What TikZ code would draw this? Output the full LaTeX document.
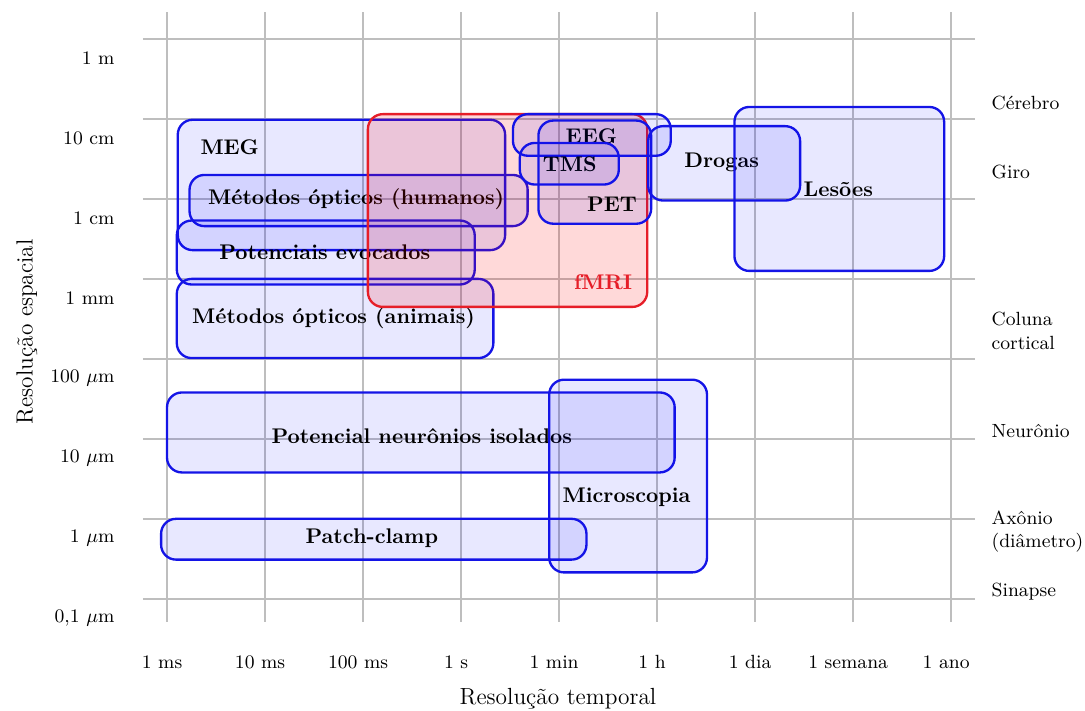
\documentclass[tikz,border=0pt]{standalone}
\usepackage{tikz}
\definecolor{bordaazul}{RGB}{20,20,230}
\definecolor{bordavermelha}{RGB}{230,30,40}
\definecolor{gradecinza}{RGB}{190,190,190}
\tikzset{
  grade/.style={gradecinza,line width=0.8pt},
  caixaazul/.style={draw=bordaazul,fill=blue,fill opacity=0.09,line width=1.1pt,rounded corners=7pt},
  caixavermelha/.style={draw=bordavermelha,fill=red,fill opacity=0.15,line width=1.1pt,rounded corners=7pt},
  rotulo/.style={font=\fontsize{10}{12}\selectfont\bfseries,inner sep=1pt},
  marca/.style={font=\fontsize{9}{11}\selectfont,inner sep=1pt},
  titulo/.style={font=\fontsize{11}{13}\selectfont,inner sep=1pt}
}
\newcommand{\tecnica}[8]{%
  \draw[#2] (#3,#4) rectangle (#5,#6);%
  \node[rotulo] (#1) at (#7) {#8};%
}

\begin{document}
\begin{tikzpicture}[x=46.2pt,y=37.7pt]
  \useasboundingbox (-1.704,-1.4) rectangle (9.367,7.4875);
  % grade
  \foreach \i in {0,...,8} \draw[grade] (\i,-0.29) -- (\i,7.34);
  \foreach \j in {0,...,7} \draw[grade] (-0.245,\j) -- (8.245,\j);
  % eixos
  \foreach \t [count=\i from 0] in {1 ms,10 ms,100 ms,1 s,1 min,1 h,1 dia,1 semana,1 ano}
    \node[marca] (t\i) at (\i-0.05,-0.79) {\t};
  \foreach \e [count=\j from 0] in {{0,1 $\mu$m},1 $\mu$m,10 $\mu$m,100 $\mu$m,1 mm,1 cm,10 cm,1 m}
    \node[marca,anchor=east] (e\j) at (-0.51,\j-0.24) {\e};
  \foreach \v/\nome/\txt in {6.2/cerebro/Cérebro,5.34/giro/Giro,3.35/coluna/{Coluna\\cortical},2.1/neuronio/Neurônio,0.84/axonio/{Axônio\\(diâmetro)},0.09/sinapse/Sinapse}
    \node[marca,anchor=west,align=left,inner sep=0pt] (\nome) at (8.41,\v) {\txt};
  \node[titulo] (eixot) at (3.99,-1.25) {Resolução temporal};
  \node[titulo,rotate=90] (eixoe) at (-1.43,3.34) {Resolução espacial};
  % tecnicas
  \tecnica{meg}{caixaazul}{0.11}{4.36}{3.45}{5.99}{0.64,5.65}{MEG}
  \tecnica{opthum}{caixaazul}{0.23}{4.66}{3.68}{5.30}{1.93,5.0}{Métodos ópticos (humanos)}
  \tecnica{potevoc}{caixaazul}{0.10}{3.93}{3.14}{4.73}{1.61,4.33}{Potenciais evocados}
  \tecnica{optanim}{caixaazul}{0.10}{3.01}{3.33}{4.0}{1.70,3.51}{Métodos ópticos (animais)}
  \tecnica{fmri}{caixavermelha}{2.05}{3.65}{4.90}{6.06}{4.45,3.96}{\textcolor{bordavermelha}{fMRI}}
  \tecnica{eeg}{caixaazul}{3.53}{5.54}{5.14}{6.06}{4.33,5.78}{EEG}
  \tecnica{tms}{caixaazul}{3.60}{5.18}{4.61}{5.70}{4.11,5.43}{TMS}
  \tecnica{pet}{caixaazul}{3.79}{4.69}{4.94}{5.98}{4.54,4.94}{PET}
  \tecnica{drogas}{caixaazul}{4.91}{4.98}{6.46}{5.91}{5.66,5.46}{Drogas}
  \tecnica{lesoes}{caixaazul}{5.79}{4.10}{7.93}{6.15}{6.85,5.125}{Lesões}
  \tecnica{neuronios}{caixaazul}{0.0}{1.58}{5.18}{2.58}{2.60,2.04}{Potencial neurônios isolados}
  \tecnica{micro}{caixaazul}{3.90}{0.33}{5.51}{2.74}{4.69,1.275}{Microscopia}
  \tecnica{patch}{caixaazul}{-0.06}{0.49}{4.28}{1.0}{2.09,0.76}{Patch-clamp}
\end{tikzpicture}
\end{document}
